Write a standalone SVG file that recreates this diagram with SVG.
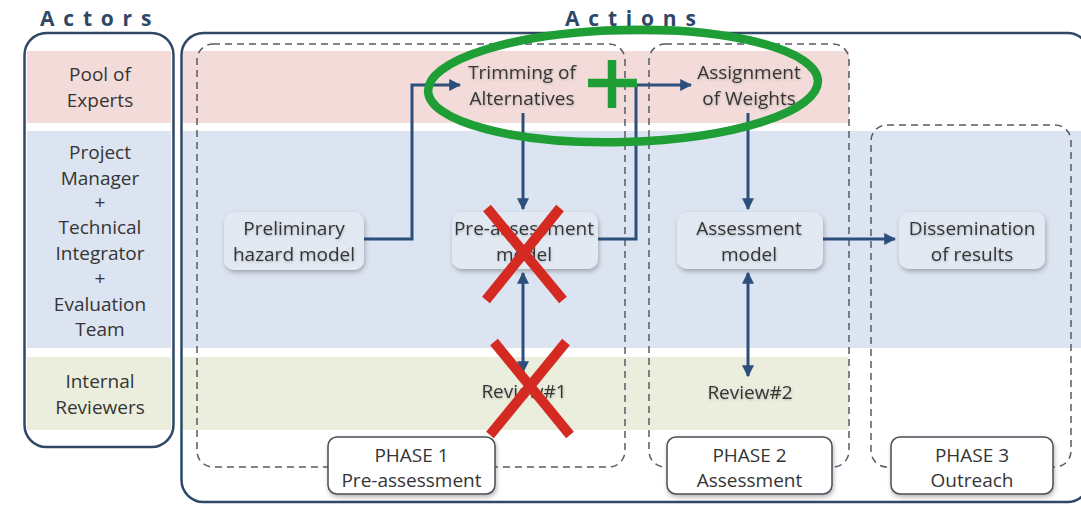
<svg xmlns="http://www.w3.org/2000/svg" width="1081" height="505" viewBox="0 0 1081 505">
<style>
.title{font-family:"Open Sans","Liberation Sans",sans-serif;font-weight:bold;font-size:21px;fill:#2e4866;letter-spacing:8.8px}
.lbl{font-family:"Open Sans","Liberation Sans",sans-serif;font-size:19px;fill:#353535;text-anchor:middle}
.frame{fill:none;stroke:#2e4866;stroke-width:2.5}
.phase{fill:none;stroke:#555c66;stroke-width:1.5;stroke-dasharray:7 5}
.node{fill:#e2e9f3;filter:url(#sh)}
.pbox{fill:#ffffff;stroke:#4a4f57;stroke-width:1.5;filter:url(#sh)}
.conn{fill:none;stroke:#2c4f7c;stroke-width:3}
.redx{stroke:#d42a22;stroke-width:10;stroke-linecap:butt}
.green{fill:none;stroke:#1f9e36;stroke-width:8.5}
</style>
<defs>
<filter id="sh" x="-10%" y="-10%" width="125%" height="140%">
<feDropShadow dx="1" dy="2.5" stdDeviation="2" flood-color="#333" flood-opacity="0.35"/>
</filter>
<filter id="tsh" x="-5%" y="-20%" width="110%" height="150%">
<feDropShadow dx="0.5" dy="1" stdDeviation="1" flood-color="#555" flood-opacity="0.35"/>
</filter>
<marker id="ah" viewBox="0 0 10 10" refX="9" refY="5" markerWidth="4" markerHeight="4" orient="auto-start-reverse" markerUnits="strokeWidth">
<path d="M0,0 L10,5 L0,10 Z" fill="#2c4f7c"/>
</marker>
</defs>
<rect width="1081" height="505" fill="#ffffff"/>

<g id="bands">
<rect x="27" y="51" width="144" height="72" fill="#f2dbd9"/>
<rect x="27" y="131" width="144" height="217" fill="#dbe4f0"/>
<rect x="27" y="357" width="144" height="73" fill="#ebeedd"/>
<rect x="183" y="51" width="666" height="72" fill="#f2dbd9"/>
<rect x="183" y="131" width="898" height="217" fill="#dbe4f0"/>
<rect x="183" y="357" width="666" height="73" fill="#ebeedd"/>
</g>

<g id="actors">
<text class="title" x="40" y="26">Actors</text>
<rect class="frame" x="24.5" y="33" width="149" height="414" rx="22"/>
<text class="lbl" x="100" y="81">Pool of</text>
<text class="lbl" x="100" y="107">Experts</text>
<text class="lbl" x="100" y="159">Project</text>
<text class="lbl" x="100" y="185">Manager</text>
<text class="lbl" x="100" y="209">+</text>
<text class="lbl" x="100" y="234">Technical</text>
<text class="lbl" x="100" y="260">Integrator</text>
<text class="lbl" x="100" y="285">+</text>
<text class="lbl" x="100" y="311">Evaluation</text>
<text class="lbl" x="100" y="336">Team</text>
<text class="lbl" x="100" y="388">Internal</text>
<text class="lbl" x="100" y="414">Reviewers</text>
</g>

<g id="actions">
<text class="title" x="565" y="26">Actions</text>
<rect class="frame" x="181.5" y="33" width="908" height="469" rx="22"/>
</g>

<g id="phase1">
<rect class="phase" x="197" y="44" width="428" height="423" rx="16"/>
<rect class="pbox" x="328" y="437" width="167" height="57" rx="9"/>
<text class="lbl" x="411.5" y="462">PHASE 1</text>
<text class="lbl" x="411.5" y="487">Pre-assessment</text>
</g>
<g id="phase2">
<rect class="phase" x="649" y="44" width="200" height="423" rx="16"/>
<rect class="pbox" x="667" y="437" width="165" height="57" rx="9"/>
<text class="lbl" x="749.5" y="462">PHASE 2</text>
<text class="lbl" x="749.5" y="487">Assessment</text>
</g>
<g id="phase3">
<rect class="phase" x="871" y="125" width="200" height="342" rx="16"/>
<rect class="pbox" x="891" y="437" width="162" height="57" rx="9"/>
<text class="lbl" x="972" y="462">PHASE 3</text>
<text class="lbl" x="972" y="487">Outreach</text>
</g>

<g id="connectors">
<path class="conn" d="M364,239 H412 V85 H460" marker-end="url(#ah)"/>
<path class="conn" d="M523,113 V209" marker-end="url(#ah)"/>
<path class="conn" d="M598,239 H636 V85 H691" marker-end="url(#ah)"/>
<path class="conn" d="M748,113 V209" marker-end="url(#ah)"/>
<path class="conn" d="M823,239 H895" marker-end="url(#ah)"/>
<path class="conn" d="M523,273 V372" marker-start="url(#ah)" marker-end="url(#ah)"/>
<path class="conn" d="M748,273 V376" marker-start="url(#ah)" marker-end="url(#ah)"/>
</g>

<g id="n-prelim">
<rect class="node" x="224" y="212" width="140" height="58" rx="10"/>
<text class="lbl" x="294" y="235" filter="url(#tsh)">Preliminary</text>
<text class="lbl" x="294" y="261" filter="url(#tsh)">hazard model</text>
</g>
<g id="n-trim">
<text class="lbl" x="522" y="79" filter="url(#tsh)">Trimming of</text>
<text class="lbl" x="522" y="105" filter="url(#tsh)">Alternatives</text>
</g>
<g id="n-preassess">
<rect class="node" x="452" y="212" width="146" height="57" rx="10"/>
<text class="lbl" x="524" y="235" filter="url(#tsh)">Pre-assessment</text>
<text class="lbl" x="524" y="261" filter="url(#tsh)">model</text>
</g>
<g id="n-review1">
<text class="lbl" x="524" y="398" filter="url(#tsh)">Review#1</text>
</g>
<g id="n-assign">
<text class="lbl" x="749" y="79" filter="url(#tsh)">Assignment</text>
<text class="lbl" x="749" y="105" filter="url(#tsh)">of Weights</text>
</g>
<g id="n-assess">
<rect class="node" x="677" y="212" width="146" height="57" rx="10"/>
<text class="lbl" x="749" y="235" filter="url(#tsh)">Assessment</text>
<text class="lbl" x="749" y="261" filter="url(#tsh)">model</text>
</g>
<g id="n-review2">
<text class="lbl" x="750" y="399" filter="url(#tsh)">Review#2</text>
</g>
<g id="n-dissem">
<rect class="node" x="899" y="212" width="146" height="57" rx="10"/>
<text class="lbl" x="972" y="235" filter="url(#tsh)">Dissemination</text>
<text class="lbl" x="972" y="261" filter="url(#tsh)">of results</text>
</g>

<g id="annotations">
<ellipse class="green" cx="623" cy="86" rx="195" ry="56" transform="rotate(-1.5 623 86)"/>
<path class="green" d="M588,83 H637 M612,60 V108"/>
<path class="redx" d="M487,208 L563,300 M560,208 L486,300"/>
<path class="redx" d="M494,342 L570,435 M566,342 L490,435"/>
</g>
</svg>
